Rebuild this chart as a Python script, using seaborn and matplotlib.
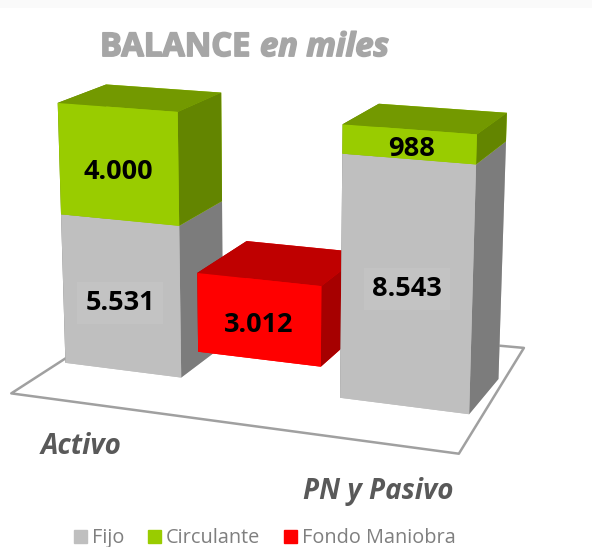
import matplotlib
matplotlib.use("Agg")
import matplotlib.pyplot as plt
import matplotlib.patheffects as pe
from matplotlib.patches import Patch, Rectangle
from mpl_toolkits.mplot3d.art3d import Poly3DCollection
import seaborn as sns

groups = ["Activo", "PN y Pasivo"]
series_names = ["Fijo", "Circulante", "Fondo Maniobra"]
fijo = [5531, 8543]
circulante = [4000, 988]
fondo = [3012]

sns.set_theme(style="white")
plt.rcParams["font.family"] = ["Open Sans", "DejaVu Sans"]

GREY, GREEN, RED = sns.color_palette(["#bfbfbf", "#99cc00", "#ff0000"])
TITLE_COL = "#a6a6a6"
TEXT_COL = "#595959"
TOTAL = fijo[0] + circulante[0]


def fmt(v):
    return f"{v:,}".replace(",", ".")


def shade(color, k):
    return tuple(c * k for c in color)


def draw_bar(ax, x, bottom, height, color, order, y=0.0, width=1.0, depth=1.0):
    # faces: bottom, top, front, back, left, right
    top = shade(color, 0.75)
    side = shade(color, 0.65)
    ax.bar3d(x, y, bottom, width, depth, height, color=[color, top, color, color, side, side],
             shade=False, edgecolor="none", linewidth=0, zorder=order)


fig = plt.figure(figsize=(5.92, 5.47), dpi=100)
fig.add_artist(Rectangle((0, 1 - 8 / 547), 1, 8 / 547, transform=fig.transFigure, color="#fafafa", lw=0))

ax = fig.add_axes([-0.0484, 0.039, 1, 1], projection="3d", computed_zorder=False)
ax.set_proj_type("persp", focal_length=0.65)
ax.view_init(elev=15, azim=-69)
ax.set_axis_off()

ax.set_xlim(-0.1, 3.4)
ax.set_ylim(-0.93, 1.7)
ax.set_zlim(0, TOTAL)
ax.set_box_aspect((459, 292, 274), zoom=1.08)

# the floor is not quite square in the original, back right corner pulled in
floor = [[(-0.06, -0.93, 0), (3.44, -0.93, 0), (3.29, 1.99, 0), (-0.06, 1.7, 0)]]
ax.add_collection3d(Poly3DCollection(floor, facecolor="white", edgecolor="#a0a0a0", linewidth=1.8, zorder=1))

draw_bar(ax, 0, 0, fijo[0], GREY, 2)
draw_bar(ax, 0, fijo[0], circulante[0], GREEN, 3)
draw_bar(ax, 0.87, 0, fondo[0], RED, 4, y=0.75, width=1.05, depth=1.25)
draw_bar(ax, 2.3, 0, fijo[1], GREY, 5)
draw_bar(ax, 2.3, fijo[1], circulante[1], GREEN, 6)

halo = [pe.withStroke(linewidth=1.2, foreground=TITLE_COL)]
fig.text(250 / 592, 0.913, "BALANCE", fontsize=23.5, fontweight="bold", color=TITLE_COL, ha="right", va="center",
         path_effects=halo)
fig.text(260 / 592, 0.913, "en miles", fontsize=23.5, fontweight="bold", style="italic", color=TITLE_COL,
         ha="left", va="center", path_effects=halo)
fig.text(41 / 592, 0.183, groups[0], fontsize=20, fontweight="bold", style="italic", color=TEXT_COL, va="center")
fig.text(303 / 592, 0.102, groups[1], fontsize=20, fontweight="bold", style="italic", color=TEXT_COL, va="center")

labels = [(118, 172, circulante[0]), (120, 303, fijo[0]), (259, 325, fondo[0]), (407, 289, fijo[1]),
          (412, 149, circulante[1])]
for lx, ly, v in labels:
    # the grey bars show a faint lighter box behind the number
    box = dict(facecolor="#c3c3c3", edgecolor="none", pad=6) if v in fijo else None
    fig.text(lx / 592, 1 - ly / 547, fmt(v), fontsize=19.5, fontweight="bold", color="black", ha="center", va="center",
             bbox=box)

handles = [Patch(color=c) for c in (GREY, GREEN, RED)]
fig.legend(handles, series_names, loc="lower center", ncol=3, frameon=False, fontsize=14.3,
           labelcolor="#7f7f7f", handlelength=0.65, handleheight=0.65, columnspacing=1.2,
           handletextpad=0.25, bbox_to_anchor=(0.447, -0.035))

fig.savefig("out.png", dpi=100)
